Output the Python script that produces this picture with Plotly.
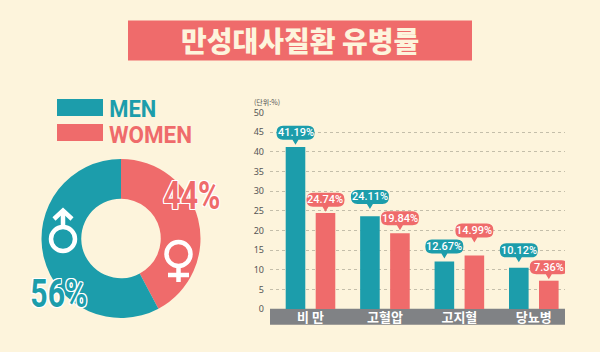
import plotly.graph_objects as go

# ---- data ----
categories = ["비 만", "고혈압", "고지혈", "당뇨병"]
men_bar_values = [41.2, 23.6, 12.1, 10.5]
women_bar_values = [24.4, 19.3, 13.6, 7.2]
men_labels = ["41.19%", "24.11%", "12.67%", "10.12%"]
women_labels = ["24.74%", "19.84%", "14.99%", "7.36%"]
pie_labels = ["WOMEN", "MEN"]
pie_shares = [42.2, 57.8]
pie_texts = ["44%", "56%"]
y_ticks = list(range(0, 55, 5))

# ---- style ----
W, H = 600, 352
TEAL = "#1C9DAB"
CORAL = "#EF6B6B"
BG = "#FDF4DC"
GRAY = "#808285"
men_lift = [14.3, 19.3, 15, 17.4]
women_lift = [13.3, 15, 25, 13.4]
SANS = "Noto Sans CJK KR"
NARROW = "Roboto"


def px(x):
    return x / W


def py(y):
    return 1 - y / H


fig = go.Figure()
xs = list(range(len(categories)))
fig.add_bar(x=xs, y=men_bar_values, marker=dict(color=TEAL, line_width=0), name="MEN")
fig.add_bar(x=xs, y=women_bar_values, marker=dict(color=CORAL, line_width=0), name="WOMEN")
fig.add_pie(
    labels=pie_labels, values=pie_shares, sort=False, direction="clockwise", rotation=0,
    hole=0.5, textinfo="none", hoverinfo="skip",
    marker=dict(colors=[CORAL, TEAL], line_width=0),
    domain=dict(x=[px(41.5), px(200.5)], y=[py(318), py(159)]),
)

shapes, ann = [], []


def rect(x0, y0, x1, y1, color, layer="below"):
    shapes.append(dict(type="rect", xref="paper", yref="paper", x0=px(x0), x1=px(x1),
                       y0=py(y1), y1=py(y0), fillcolor=color, line_width=0, layer=layer))


def stroke(points, width=4.5):
    path = "M " + " L ".join(f"{px(a)} {py(b)}" for a, b in points)
    shapes.append(dict(type="path", xref="paper", yref="paper", path=path, layer="above",
                       line=dict(color="white", width=width)))


def ring(cx, cy, r, width=4.5):
    shapes.append(dict(type="circle", xref="paper", yref="paper", x0=px(cx - r), x1=px(cx + r),
                       y0=py(cy + r), y1=py(cy - r), layer="above",
                       line=dict(color="white", width=width)))


def text(x, y, s, size, color, font=SANS, anchor="center", weight="normal", shadow=None):
    f = dict(family=font, size=size, color=color, weight=weight)
    if shadow:
        f["shadow"] = shadow
    ann.append(dict(xref="paper", yref="paper", x=px(x), y=py(y), text=s, showarrow=False,
                    xanchor=anchor, yanchor="middle", font=f))


def pill(xc, val, lift, label, color):
    w, h, r, t = 19, 7, 6.5, 12
    b, u = lift - h, lift + h
    path = (f"M {-w+r} {b} L -3 {b} L 0 {lift-t} L 3 {b} L {w-r} {b} "
            f"Q {w} {b} {w} {b+r} L {w} {u-r} Q {w} {u} {w-r} {u} "
            f"L {-w+r} {u} Q {-w} {u} {-w} {u-r} L {-w} {b+r} Q {-w} {b} {-w+r} {b} Z")
    shapes.append(dict(type="path", xref="x", yref="y", xsizemode="pixel", ysizemode="pixel",
                       xanchor=xc, yanchor=val, path=path, fillcolor=color, line_width=0, layer="above"))
    ann.append(dict(xref="x", yref="y", x=xc, y=val, yshift=lift, text=label, showarrow=False,
                    xanchor="center", yanchor="middle",
                    font=dict(family="Roboto", size=11, color="white", weight=500)))


# title, legend
rect(128, 20.5, 472, 60.5, CORAL)
text(300, 40, "만성대사질환 유병률", 28, BG, weight=900)
rect(57, 99, 103, 116, TEAL)
rect(57, 124, 103, 141, CORAL)
text(132.5, 108.5, "MEN", 24, TEAL, NARROW, "center", "bold")
text(150.5, 134.5, "WOMEN", 24, CORAL, NARROW, "center", "bold")

# donut texts
outline = ("#fff -1.2px -1.2px 0, #fff 1.2px -1.2px 0, #fff -1.2px 1.2px 0, #fff 1.2px 1.2px 0, "
           "#fff 0 1.2px 0, #fff 0 -1.2px 0, #fff 1.2px 0 0, #fff -1.2px 0 0")
text(191.5, 196, pie_texts[0], 39, CORAL, NARROW, weight="bold", shadow=outline)
text(58.5, 294, pie_texts[1], 39, TEAL, NARROW, weight="bold", shadow=outline)

# gender icons
ring(178.5, 254, 12)
stroke([(178.5, 266), (178.5, 282)])
stroke([(168, 275), (189, 275)])
ring(63, 239, 12)
stroke([(63, 227), (63, 211)])
stroke([(54, 219), (63, 210.5), (72, 219)])

# axis band & unit
rect(270, 308.7, 565, 324.7, GRAY)
text(252, 102, "(단위:%)", 7, "#555555", anchor="left")

group = 0.2015
for i in xs:
    pill(i - group, men_bar_values[i], men_lift[i], men_labels[i], TEAL)
    pill(i + group, women_bar_values[i], women_lift[i], women_labels[i], CORAL)

fig.update_layout(
    width=W, height=H, margin=dict(l=0, r=0, t=0, b=0, pad=0, autoexpand=False),
    paper_bgcolor=BG, plot_bgcolor="rgba(0,0,0,0)", showlegend=False,
    barmode="group", bargap=0.194, bargroupgap=0.347,
    shapes=shapes, annotations=ann,
    xaxis=dict(domain=[px(270), px(565)], range=[-0.544, 3.419], tickvals=xs, ticktext=categories,
               showgrid=False, zeroline=False, ticks="", showline=False, ticklabelstandoff=-1,
               automargin=False,
               tickfont=dict(family=SANS, size=13, color="white", weight="bold")),
    yaxis=dict(domain=[py(309), py(112.5)], range=[0, 50], tickvals=y_ticks,
               gridcolor="#C4BEAA", griddash="dot", gridwidth=1, zeroline=False, showline=False,
               ticks="", ticklabelstandoff=5, automargin=False,
               tickfont=dict(family="Noto Sans", size=9, color="#555555")),
)

# narrow the heavy display words to the reference's condensed widths
post = """
document.body.style.margin='0';document.body.style.background='#FDF4DC';
var widths={'44%':57,'56%':57,'MEN':47,'WOMEN':83};
document.querySelectorAll('.annotation-text').forEach(function(t){
  var w=widths[t.textContent];
  if(w){t.setAttribute('textLength',w);t.setAttribute('lengthAdjust','spacingAndGlyphs');}
});
"""
fig.write_html("out.html", config={"displayModeBar": False}, post_script=post)
